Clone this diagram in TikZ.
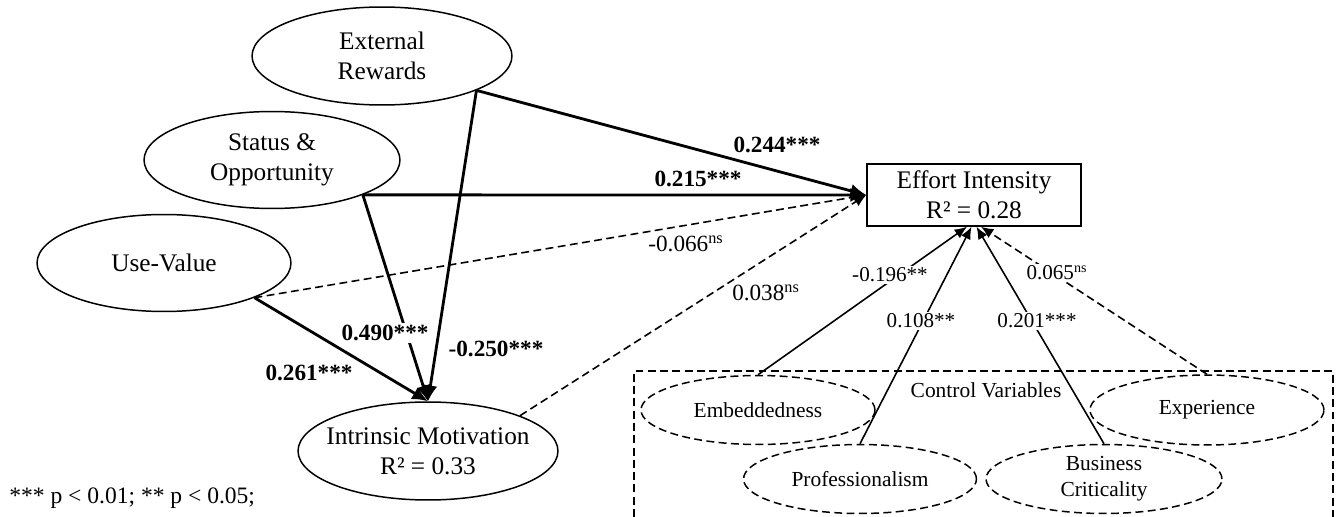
\documentclass[tikz,border=0pt]{standalone}
\usepackage{fontspec}
\setmainfont{Liberation Serif}
\usetikzlibrary{positioning,shapes.geometric,arrows.meta}

\begin{document}
\begin{tikzpicture}[x=0.02cm,y=-0.02cm,font=\fontsize{14.4}{17}\selectfont]
\tikzstyle{elip}=[draw,ellipse,line width=0.85pt,inner sep=0pt,align=center]
\tikzstyle{elipdut}=[elip,dash pattern=on 4.5pt off 2.5pt,font=\fontsize{12.2}{14.8}\selectfont]
\tikzstyle{hop}=[draw,line width=0.85pt,align=center,minimum width=4.28cm,minimum height=1.24cm]
\tikzstyle{dam}=[line width=1.6pt,-{Latex[length=9pt,width=8pt]}]
\tikzstyle{manh}=[line width=0.9pt,-{Latex[length=7pt,width=6pt]}]
\tikzstyle{dut}=[manh,dash pattern=on 4.5pt off 2.5pt]
\tikzstyle{so}=[fill=white,inner sep=1pt,font=\fontsize{13.2}{16}\selectfont]
\tikzstyle{sonho}=[so,font=\fontsize{12}{14}\selectfont]

\useasboundingbox (0,0) rectangle (1336,517);

   \path (382,56) node[elip,minimum width=5.2cm,minimum height=1.96cm] (ER) {External\\Rewards}
    (272,160) node[elip,minimum width=5.12cm,minimum height=1.94cm] (SO) {Status \&\\Opportunity}
    (164,263) node[elip,minimum width=5.08cm,minimum height=1.94cm] (UV) {Use-Value}
    (428,451) node[elip,inner xsep=-6pt,minimum width=5.2cm,minimum height=1.96cm] (IM) {Intrinsic Motivation\\R² = 0.33}
    (974,195) node[hop] (EI) {Effort Intensity\\R² = 0.28};

   % control variables
   \draw[line width=0.85pt,dash pattern=on 4.5pt off 2.5pt] (634,517) -- (634,371) -- (1333,371) -- (1333,517);
   \node[font=\fontsize{12.2}{14.8}\selectfont] (CV) at (986,390) {Control Variables};
   \path (758,410) node[elipdut,minimum width=4.68cm,minimum height=1.38cm] (EM) {Embeddedness}
    (860,479) node[elipdut,minimum width=4.66cm,minimum height=1.38cm] (PR) {Professionalism}
    (1207,410) node[elipdut,minimum width=4.68cm,minimum height=1.40cm] (EX) {Experience}
    (1104,479) node[elipdut,minimum width=4.72cm,minimum height=1.38cm] (BC) {Business\\Criticality};

   \draw[dam] (ER.-20) -- (EI.west);
   \draw[dam] (SO.-21) -- (EI.west);
   \draw[dut] (UV.-21) -- (EI.west);
   \draw[dut] (IM.21) -- (EI.west);
   \draw[dam] (ER.-20) -- (IM.north);
   \draw[dam] (SO.-21) -- (IM.north);
   \draw[dam] (UV.-21) -- (IM.north);

   \draw[manh] (EM.north) -- ([xshift=-0.14cm]EI.south);
   \draw[manh] (PR.north) -- ([xshift=-0.05cm]EI.south);
   \draw[manh] (BC.north) -- ([xshift=0.05cm]EI.south);
   \draw[dut] (EX.north) -- ([xshift=0.14cm]EI.south);

   \node[so] (L1) at (777,145) {\textbf{0.244***}};
   \node[so] (L2) at (698,179) {\textbf{0.215***}};
   \node[so] (L3) at (686,244) {-0.066\textsuperscript{ns}};
   \node[so] (L4) at (766,293) {0.038\textsuperscript{ns}};
   \node[so] (L5) at (385,333) {\textbf{0.490***}};
   \node[so] (L6) at (496,349) {\textbf{-0.250***}};
   \node[so] (L7) at (309,373) {\textbf{0.261***}};
   \node[sonho] (L8) at (890,275) {-0.196**};
   \node[sonho] (L9) at (921,321) {0.108**};
   \node[sonho] (L10) at (1037,321) {0.201***};
   \node[sonho] (L11) at (1057,273) {0.065\textsuperscript{ns}};

   \node[anchor=west,inner sep=0pt,font=\fontsize{13.4}{16}\selectfont] (NT) at (9,498) {*** p < 0.01; ** p < 0.05;};
\end{tikzpicture}
\end{document}
